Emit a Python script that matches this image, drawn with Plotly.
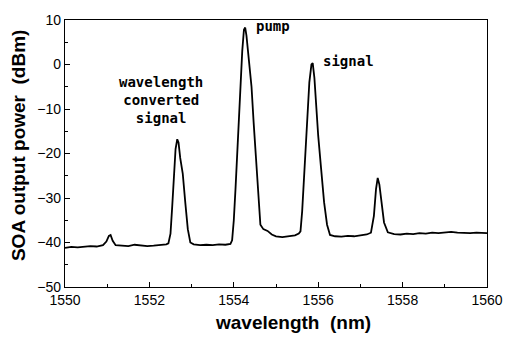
import plotly.graph_objects as go

wavelength = [
    1550.00, 1550.15, 1550.30, 1550.45, 1550.60, 1550.75, 1550.90, 1550.98, 1551.04, 1551.08,
    1551.13, 1551.20, 1551.35, 1551.50, 1551.65, 1551.80, 1551.95, 1552.10, 1552.25, 1552.40,
    1552.45, 1552.50, 1552.54, 1552.58, 1552.62, 1552.66, 1552.69, 1552.73, 1552.79, 1552.85,
    1552.91, 1552.97, 1553.05, 1553.20, 1553.35, 1553.50, 1553.65, 1553.80, 1553.92, 1553.96,
    1554.00, 1554.04, 1554.08, 1554.12, 1554.16, 1554.20, 1554.24, 1554.27, 1554.30, 1554.33,
    1554.37, 1554.42, 1554.47, 1554.53, 1554.58, 1554.63, 1554.70, 1554.80, 1554.90, 1555.00,
    1555.15, 1555.30, 1555.45, 1555.54, 1555.58, 1555.62, 1555.66, 1555.70, 1555.74, 1555.79,
    1555.84, 1555.87, 1555.91, 1555.95, 1556.00, 1556.07, 1556.14, 1556.21, 1556.28, 1556.40,
    1556.55, 1556.70, 1556.85, 1557.00, 1557.15, 1557.25, 1557.32, 1557.37, 1557.41, 1557.45,
    1557.50, 1557.56, 1557.65, 1557.80, 1557.95, 1558.10, 1558.25, 1558.40, 1558.55, 1558.70,
    1558.85, 1559.00, 1559.15, 1559.30, 1559.45, 1559.60, 1559.75, 1559.90, 1560.00,
]
power_dbm = [
    -41.2, -41.0, -41.1, -40.9, -40.8, -40.9, -40.6, -39.8, -38.5, -38.3,
    -39.6, -40.6, -40.7, -40.8, -40.5, -40.6, -40.8, -40.7, -40.6, -40.4,
    -40.2, -38.0, -32.0, -24.0, -19.0, -16.8, -17.5, -21.0, -24.5, -31.0,
    -37.0, -40.0, -40.4, -40.6, -40.5, -40.6, -40.4, -40.5, -40.3, -39.5,
    -35.0, -28.0, -20.0, -11.0, -3.0, 3.0, 7.8, 8.3, 6.5, 3.5,
    -0.5, -5.0, -13.0, -22.0, -31.0, -36.0, -37.0, -37.4, -38.2, -38.6,
    -38.8, -38.6, -38.4, -38.0, -37.5, -33.0, -26.0, -20.0, -10.0, -4.0,
    0.0, 0.3, -3.0, -9.0, -16.0, -23.5, -31.0, -36.0, -38.3, -38.6,
    -38.7, -38.5, -38.6, -38.4, -38.2, -37.8, -34.0, -28.0, -25.5, -27.0,
    -31.5, -35.5, -37.7, -38.1, -38.2, -38.0, -38.1, -37.9, -38.0, -37.8,
    -37.9, -37.7, -37.6, -37.8, -37.9, -37.9, -37.8, -37.9, -37.9,
]

x_ticks = [1550, 1552, 1554, 1556, 1558, 1560]
y_ticks = [-50, -40, -30, -20, -10, 0, 10]

fig = go.Figure()
fig.add_trace(go.Scatter(x=wavelength, y=power_dbm, mode="lines",
                         line=dict(color="black", width=1.8), showlegend=False))

tick_font = dict(family="Liberation Sans, Arial, sans-serif", size=14, color="black")
fig.update_xaxes(range=[1550, 1560], tickvals=x_ticks, ticks="inside", ticklen=5,
                 tickcolor="black", showline=True, linecolor="black", linewidth=1.2,
                 mirror=True, showgrid=False, zeroline=False, tickfont=tick_font,
                 minor=dict(dtick=1, ticks="inside", ticklen=3, tickcolor="black"))
fig.update_yaxes(range=[-50, 10], tickvals=y_ticks, ticks="inside", ticklen=5,
                 tickcolor="black", showline=True, linecolor="black", linewidth=1.2,
                 mirror=True, showgrid=False, zeroline=False, tickfont=tick_font,
                 minor=dict(dtick=5, ticks="inside", ticklen=3, tickcolor="black"))

ann_font = dict(family="DejaVu Sans Mono, monospace", size=14, color="black")
title_font = dict(family="Liberation Sans, Arial, sans-serif", size=19, color="black")
fig.update_layout(
    width=515, height=339,
    margin=dict(l=65, r=16, t=15, b=52),
    plot_bgcolor="white", paper_bgcolor="white",
    annotations=[
        dict(x=1552.28, y=-8.0, xref="x", yref="y", text="<b>wavelength<br>converted<br>signal</b>",
             showarrow=False, font=ann_font, align="center"),
        dict(x=1554.47, y=8.6, xref="x", yref="y", text="<b>pump</b>", showarrow=False,
             font=ann_font, xanchor="left", yanchor="middle"),
        dict(x=1556.06, y=0.8, xref="x", yref="y", text="<b>signal</b>", showarrow=False,
             font=ann_font, xanchor="left", yanchor="middle"),
        dict(x=0.54, y=-0.085, xref="paper", yref="paper", text="<b>wavelength  (nm)</b>",
             showarrow=False, font=title_font, xanchor="center", yanchor="top"),
        dict(x=-0.11, y=0.53, xref="paper", yref="paper", text="<b>SOA output power  (dBm)</b>",
             showarrow=False, font=title_font, textangle=-90, xanchor="center", yanchor="middle"),
    ],
)

fig.write_html("out.html")
